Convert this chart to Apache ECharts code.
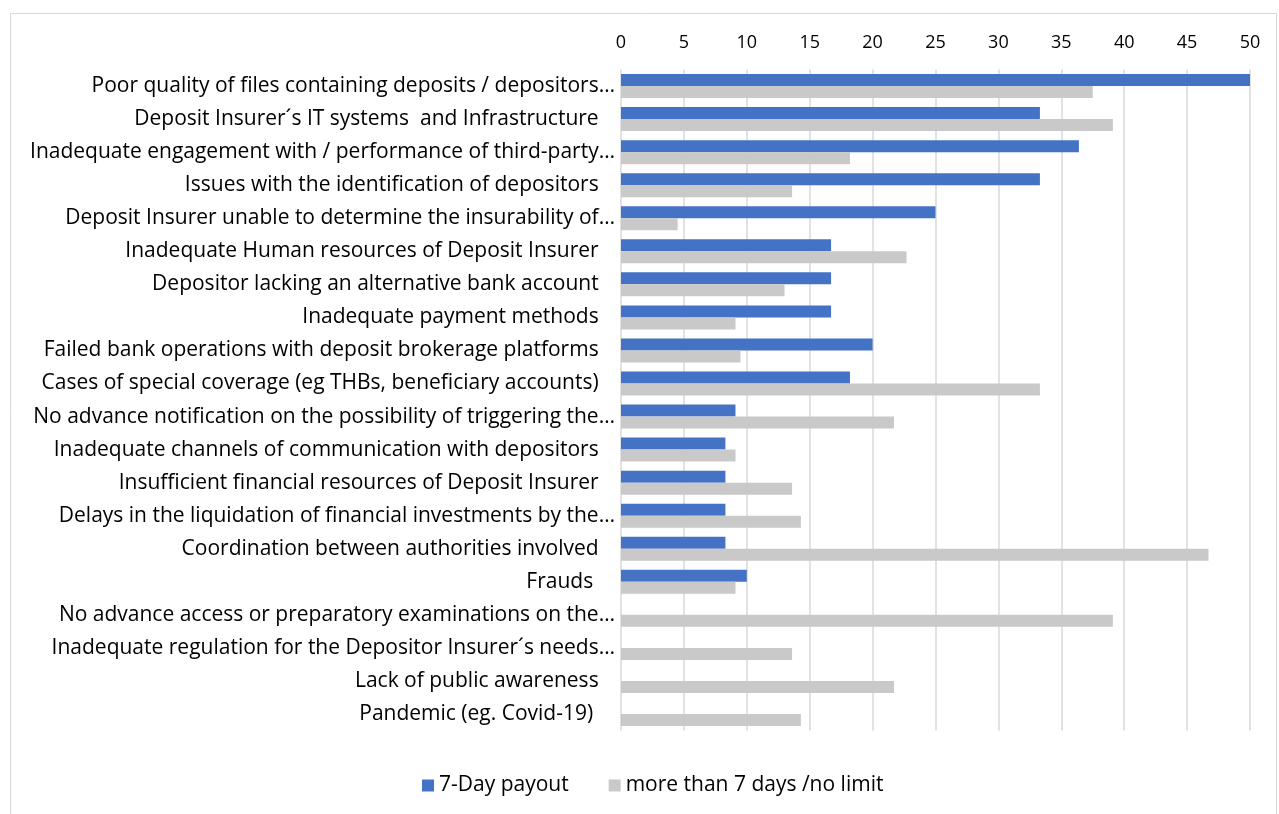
<!DOCTYPE html>
<html>
<head>
<meta charset="utf-8">
<script src="https://cdn.jsdelivr.net/npm/echarts@6/dist/echarts.min.js"></script>
<style>
html,body{margin:0;padding:0;background:#fff;}
#chart{width:1279px;height:814px;}
</style>
</head>
<body>
<div id="chart"></div>
<script>
const categories = [
  "Poor quality of files containing deposits / depositors…",
  "Deposit Insurer´s IT systems  and Infrastructure   ",
  "Inadequate engagement with / performance of third-party…",
  "Issues with the identification of depositors   ",
  "Deposit Insurer unable to determine the insurability of…",
  "Inadequate Human resources of Deposit Insurer   ",
  "Depositor lacking an alternative bank account   ",
  "Inadequate payment methods   ",
  "Failed bank operations with deposit brokerage platforms   ",
  "Cases of special coverage (eg THBs, beneficiary accounts)   ",
  "No advance notification on the possibility of triggering the…",
  "Inadequate channels of communication with depositors   ",
  "Insufficient financial resources of Deposit Insurer   ",
  "Delays in the liquidation of financial investments by the…",
  "Coordination between authorities involved   ",
  "Frauds    ",
  "No advance access or preparatory examinations on the…",
  "Inadequate regulation for the Depositor Insurer´s needs…",
  "Lack of public awareness   ",
  "Pandemic (eg. Covid-19)    "
];
const sevenDay = [50, 33.3, 36.4, 33.3, 25, 16.7, 16.7, 16.7, 20, 18.2, 9.1, 8.3, 8.3, 8.3, 8.3, 10, 0, 0, 0, 0];
const moreThan7 = [37.5, 39.1, 18.2, 13.6, 4.5, 22.7, 13.0, 9.1, 9.5, 33.3, 21.7, 9.1, 13.6, 14.3, 46.7, 9.1, 39.1, 13.6, 21.7, 14.3];
const seriesNames = ["7-Day payout", "more than 7 days /no limit"];
const xTicks = { min: 0, max: 50, interval: 5 };

const FONT = "Open Sans";
const chart = echarts.init(document.getElementById('chart'), null, {renderer: 'canvas'});
chart.setOption({
  animation: false,
  backgroundColor: '#fff',
  textStyle: { fontFamily: FONT },
  graphic: [{
    type: 'rect', silent: true,
    shape: { x: 10.5, y: 13.5, width: 1266, height: 812 },
    style: { fill: 'none', stroke: '#d9d9d9', lineWidth: 1 }
  }],
  grid: { left: 621, right: 29, top: 69.5, bottom: 83.5, containLabel: false },
  legend: {
    data: seriesNames,
    left: 422, top: 775, padding: 0,
    itemWidth: 12, itemHeight: 12, itemGap: 40,
    icon: 'rect',
    textStyle: { fontSize: 21, color: '#000', fontFamily: FONT, padding: [0,0,0,0] }
  },
  xAxis: {
    type: 'value', position: 'top',
    min: xTicks.min, max: xTicks.max, interval: xTicks.interval,
    axisLine: { show: false }, axisTick: { show: false },
    splitLine: { show: true, lineStyle: { color: '#d9d9d9', width: 1.5 } },
    axisLabel: { fontSize: 18, color: '#000', margin: 18, fontFamily: FONT }
  },
  yAxis: {
    type: 'category', inverse: true, data: categories,
    axisLine: { show: false }, axisTick: { show: false },
    axisLabel: { fontSize: 21, color: '#000', margin: 6, fontFamily: FONT, interval: 0, padding: [4, 0, 0, 0] }
  },
  series: [
    { name: seriesNames[0], type: 'bar', data: sevenDay, barWidth: 12, barGap: '0%',
      itemStyle: { color: '#4472C4' } },
    { name: seriesNames[1], type: 'bar', data: moreThan7, barWidth: 12, barGap: '0%',
      itemStyle: { color: '#C9C9C9' } }
  ]
});
</script>
</body>
</html>
